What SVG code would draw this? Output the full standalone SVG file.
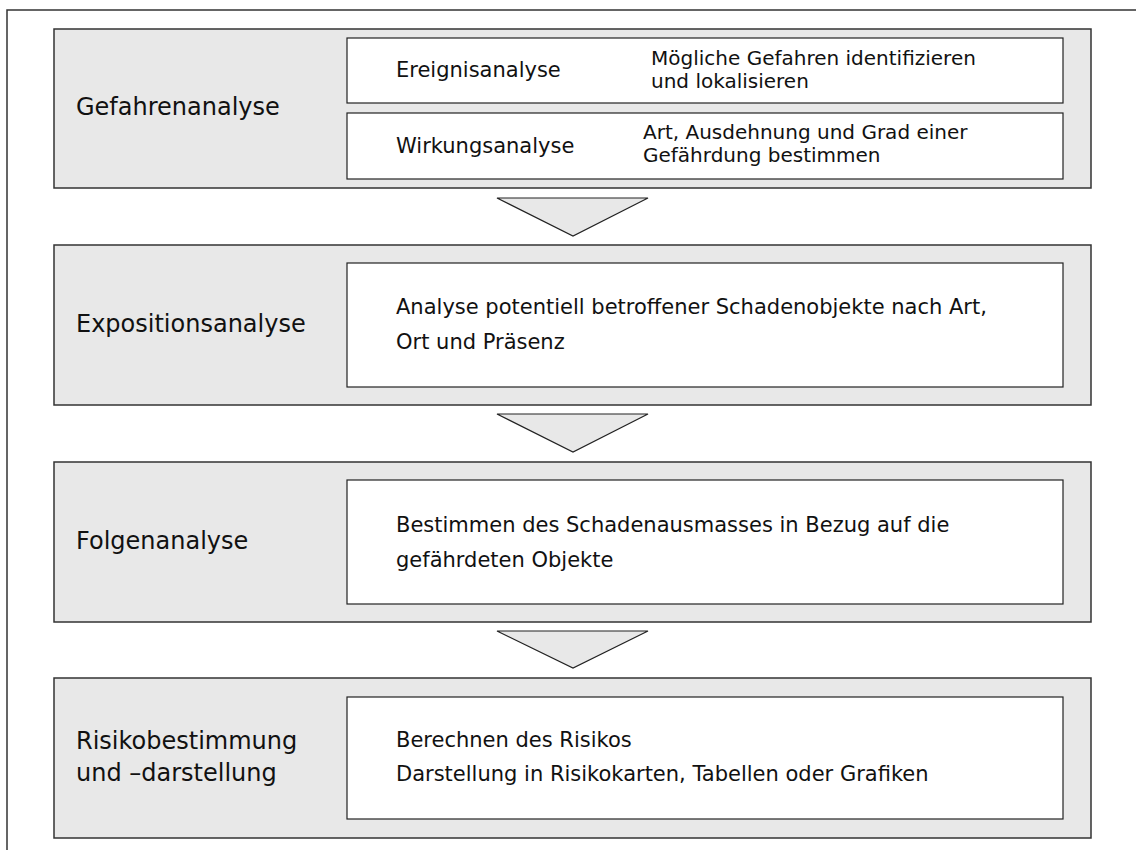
<svg xmlns="http://www.w3.org/2000/svg" width="1136" height="850" viewBox="0 0 1136 850">
  <style>
    .frame { fill: #ffffff; stroke: #333333; stroke-width: 1.5; }
    .stage { fill: #e8e8e8; stroke: #333333; stroke-width: 1.5; }
    .detail { fill: #ffffff; stroke: #222222; stroke-width: 1.2; }
    .step { fill: #e8e8e8; stroke: #222222; stroke-width: 1.2; stroke-linejoin: miter; }
    .label { font-family: "DejaVu Sans", "Liberation Sans", sans-serif; font-size: 24px; fill: #111111; }
    .text { font-family: "DejaVu Sans", "Liberation Sans", sans-serif; font-size: 21px; fill: #111111; }
    .note { font-family: "DejaVu Sans", "Liberation Sans", sans-serif; font-size: 20px; fill: #111111; }
  </style>

  <rect width="1136" height="850" fill="#ffffff"/>
  <!-- surrounding frame, open to the right and bottom -->
  <rect class="frame" x="7" y="10" width="1150" height="860"/>

  <g id="gefahrenanalyse">
    <rect class="stage" x="54" y="29" width="1037" height="159"/>
    <text class="label" x="76" y="115">Gefahrenanalyse</text>
    <g id="ereignisanalyse">
      <rect class="detail" x="347" y="38" width="716" height="65"/>
      <text class="text" x="396" y="77">Ereignisanalyse</text>
      <text class="note" x="651" y="65">Mögliche Gefahren identifizieren</text>
      <text class="note" x="651" y="88">und lokalisieren</text>
    </g>
    <g id="wirkungsanalyse">
      <rect class="detail" x="347" y="113" width="716" height="66"/>
      <text class="text" x="396" y="153">Wirkungsanalyse</text>
      <text class="note" x="643" y="139">Art, Ausdehnung und Grad einer</text>
      <text class="note" x="643" y="162">Gefährdung bestimmen</text>
    </g>
  </g>

  <g id="expositionsanalyse">
    <rect class="stage" x="54" y="245" width="1037" height="160"/>
    <text class="label" x="76" y="332">Expositionsanalyse</text>
    <rect class="detail" x="347" y="263" width="716" height="124"/>
    <text class="text" x="396" y="314">Analyse potentiell betroffener Schadenobjekte nach Art,</text>
    <text class="text" x="396" y="349">Ort und Präsenz</text>
  </g>

  <g id="folgenanalyse">
    <rect class="stage" x="54" y="462" width="1037" height="160"/>
    <text class="label" x="76" y="549">Folgenanalyse</text>
    <rect class="detail" x="347" y="480" width="716" height="124"/>
    <text class="text" x="396" y="532">Bestimmen des Schadenausmasses in Bezug auf die</text>
    <text class="text" x="396" y="567">gefährdeten Objekte</text>
  </g>

  <g id="risikobestimmung">
    <rect class="stage" x="54" y="678" width="1037" height="160"/>
    <text class="label" x="76" y="749">Risikobestimmung</text>
    <text class="label" x="76" y="781">und –darstellung</text>
    <rect class="detail" x="347" y="697" width="716" height="122"/>
    <text class="text" x="396" y="747">Berechnen des Risikos</text>
    <text class="text" x="396" y="781">Darstellung in Risikokarten, Tabellen oder Grafiken</text>
  </g>

  <g id="connectors">
    <polygon class="step" points="497,198 648,198 573,236"/>
    <polygon class="step" points="497,414 648,414 573,452"/>
    <polygon class="step" points="497,631 648,631 573,668"/>
  </g>
</svg>
